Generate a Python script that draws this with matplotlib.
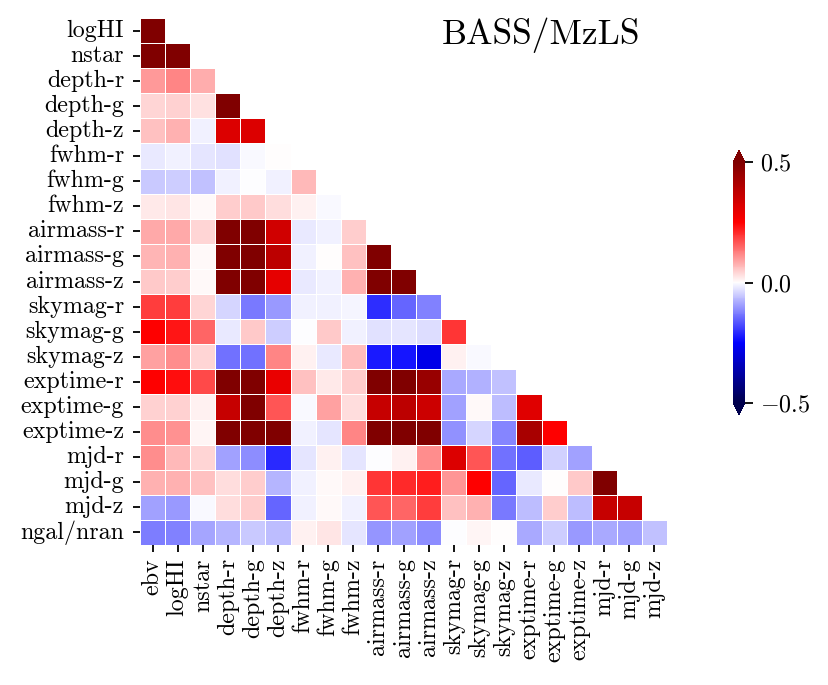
import numpy as np
import matplotlib
matplotlib.use('Agg')
import matplotlib.pyplot as plt
import seaborn as sns

plt.rcParams['font.family'] = 'serif'
plt.rcParams['font.serif'] = ['cmr10']
plt.rcParams['mathtext.fontset'] = 'cm'
plt.rcParams['axes.formatter.use_mathtext'] = True
plt.rcParams['axes.unicode_minus'] = True

# columns (x) and rows (y) of the lower triangle
cols = ['ebv', 'logHI', 'nstar', 'depth-r', 'depth-g', 'depth-z',
        'fwhm-r', 'fwhm-g', 'fwhm-z', 'airmass-r', 'airmass-g', 'airmass-z',
        'skymag-r', 'skymag-g', 'skymag-z', 'exptime-r', 'exptime-g', 'exptime-z',
        'mjd-r', 'mjd-g', 'mjd-z']
rows = cols[1:] + ['ngal/nran']

# correlation coefficients, row by row
r_logHI = [0.75]
r_nstar = [0.6, 0.55]
r_depth_r = [0.10, 0.12, 0.08]
r_depth_g = [0.04, 0.045, 0.03, 0.6]
r_depth_z = [0.06, 0.075, -0.015, 0.32, 0.32]
r_fwhm_r = [-0.02, -0.015, -0.025, -0.03, -0.007, 0.003]
r_fwhm_g = [-0.054, -0.05, -0.06, -0.013, -0.003, -0.013, 0.07]
r_fwhm_z = [0.023, 0.025, 0.007, 0.05, 0.054, 0.035, 0.015, -0.007]
r_airmass_r = [0.083, 0.083, 0.04, 0.55, 0.55, 0.34, -0.02, -0.015, 0.05]
r_airmass_g = [0.074, 0.078, 0.005, 0.55, 0.55, 0.38, -0.012, 0.003, 0.06, 0.55]
r_airmass_z = [0.054, 0.05, 0.007, 0.55, 0.55, 0.30, -0.023, -0.013, 0.078, 0.55, 0.55]
r_skymag_r = [0.19, 0.19, 0.04, -0.04, -0.13, -0.10, -0.013, -0.015, -0.01,
              -0.206, -0.15, -0.125]
r_skymag_g = [0.25, 0.23, 0.15, -0.02, 0.054, -0.05, -0.002, 0.054, -0.015,
              -0.03, -0.025, -0.035, 0.196]
r_skymag_z = [0.093, 0.113, 0.04, -0.14, -0.14, 0.12, 0.015, -0.02, 0.064,
              -0.225, -0.23, -0.28, 0.015, -0.005]
r_exptime_r = [0.25, 0.235, 0.176, 0.55, 0.55, 0.29, 0.06, 0.02, 0.05,
               0.55, 0.55, 0.45, -0.083, -0.078, -0.06]
r_exptime_g = [0.045, 0.045, 0.013, 0.36, 0.55, 0.167, -0.007, 0.093, 0.035,
               0.36, 0.38, 0.35, -0.09, 0.005, -0.064, 0.31]
r_exptime_z = [0.113, 0.108, 0.01, 0.55, 0.55, 0.5, -0.013, -0.025, 0.118,
               0.55, 0.55, 0.55, -0.108, -0.04, -0.118, 0.42, 0.25]
r_mjd_r = [0.113, 0.07, 0.04, -0.093, -0.113, -0.21, -0.025, 0.015, -0.025,
           -0.002, 0.015, 0.113, 0.32, 0.167, -0.14, -0.157, -0.044, -0.093]
r_mjd_g = [0.078, 0.078, 0.06, 0.035, 0.05, -0.074, -0.015, 0.005, 0.013,
           0.196, 0.21, 0.22, 0.103, 0.25, -0.15, -0.02, 0.003, 0.054, 0.55]
r_mjd_z = [-0.093, -0.098, -0.007, 0.035, 0.05, -0.15, -0.013, 0.007, -0.015,
           0.167, 0.15, 0.19, 0.06, 0.078, -0.13, -0.064, 0.05, -0.064, 0.36, 0.36]
r_ngal = [-0.127, -0.123, -0.088, -0.074, -0.054, -0.064, 0.013, 0.025, -0.025,
          -0.103, -0.093, -0.113, -0.003, 0.01, 0.003, -0.083, -0.05, -0.098,
          -0.083, -0.093, -0.06]

tri = [r_logHI, r_nstar, r_depth_r, r_depth_g, r_depth_z, r_fwhm_r, r_fwhm_g,
       r_fwhm_z, r_airmass_r, r_airmass_g, r_airmass_z, r_skymag_r, r_skymag_g,
       r_skymag_z, r_exptime_r, r_exptime_g, r_exptime_z, r_mjd_r, r_mjd_g,
       r_mjd_z, r_ngal]

n = len(cols)
matrix = np.full((len(rows), n), np.nan)
for i, vals in enumerate(tri):
    matrix[i, :len(vals)] = vals

fig = plt.figure(figsize=(8.29, 6.85), dpi=100)
ax = fig.add_axes([140/829, 1-545/685, 527/829, 527/685])
cax = fig.add_axes([733/829, 1-415/685, 12/829, 265/685])

sns.heatmap(matrix, ax=ax, cbar_ax=cax, cmap='seismic', vmin=-0.5, vmax=0.5,
            linewidths=0.5, linecolor='white', square=False,
            xticklabels=cols, yticklabels=rows,
            cbar_kws={'extend': 'both', 'ticks': [-0.5, 0, 0.5]})

ax.tick_params(axis='both', length=5, width=1.3, labelsize=17.3, color='k')
ax.tick_params(axis='y', pad=6.5)
ax.tick_params(axis='x', pad=4.5)
ax.set_xticklabels(cols, rotation=90)
ax.set_yticklabels(rows, rotation=0)

cax.tick_params(length=5.5, width=1.3, labelsize=17.3, pad=5.5)
cax.set_yticklabels(['$-0.5$', '$0.0$', '$0.5$'])

fig.text(541/829, 1-35/685, 'BASS/MzLS', fontsize=25.5, ha='center', va='center')

plt.savefig('out.png', dpi=100)
